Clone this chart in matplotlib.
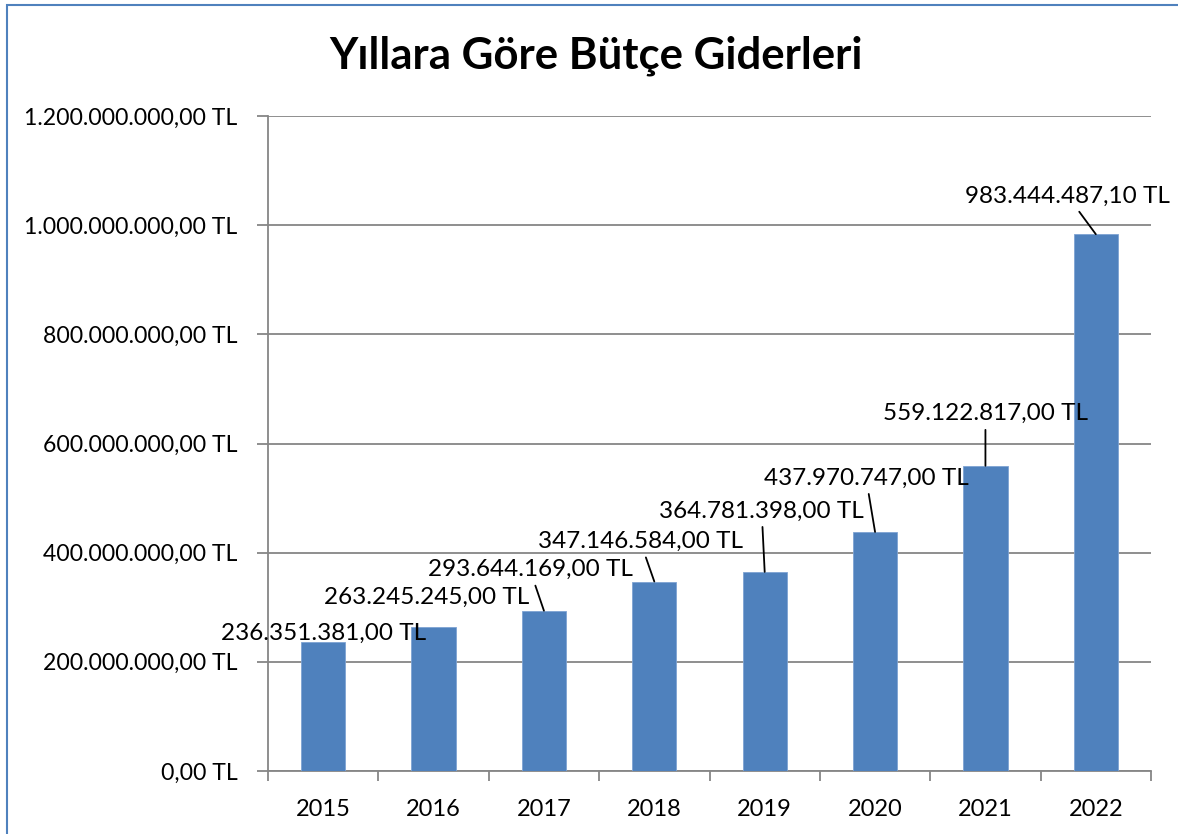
import matplotlib
matplotlib.use('Agg')
import matplotlib.pyplot as plt
from matplotlib.patches import Rectangle

plt.rcParams['font.family'] = ['Lato', 'DejaVu Sans']

years = ['2015', '2016', '2017', '2018', '2019', '2020', '2021', '2022']
giderler = [236351381.00, 263245245.00, 293644169.00, 347146584.00,
            364781398.00, 437970747.00, 559122817.00, 983444487.10]
y_ticks = [0, 200e6, 400e6, 600e6, 800e6, 1000e6, 1200e6]

# label offsets from bar top (pixels) and whether a leader line is drawn
label_offsets = [(0, 9), (-7, 30), (-14, 41), (-14, 40), (-3, 61), (-9, 54), (0, 52), (-28, 38)]
leaders = [False, False, True, True, True, True, True, True]


def tl(v):
    s = f"{v:,.2f}".replace(',', 'X').replace('.', ',').replace('X', '.')
    return s + " TL"


fig = plt.figure(figsize=(11.78, 8.34), dpi=100)
ax = fig.add_axes([268 / 1178, 1 - 771 / 834, (1151 - 268) / 1178, (771 - 116) / 834])

grey = '#868686'
x = list(range(len(years)))
ax.bar(x, giderler, width=0.4, color='#4F81BD', edgecolor='#7EA3D3', linewidth=0.6, zorder=3)

ax.set_xlim(-0.5, len(years) - 0.5)
ax.set_ylim(0, 1200e6)
ax.set_yticks(y_ticks)
ax.set_yticklabels([tl(v) for v in y_ticks])
ax.yaxis.grid(True, color=grey, linewidth=1.3, zorder=0)

ax.set_xticks([i - 0.5 for i in range(len(years) + 1)])
ax.set_xticklabels([])
ax.set_xticks(x, minor=True)
ax.set_xticklabels(years, minor=True)
ax.tick_params(axis='x', which='major', length=7, width=1.3, color=grey, direction='out')
ax.tick_params(axis='x', which='minor', length=0, pad=20, labelsize=17)
ax.tick_params(axis='y', length=8, width=1.3, color=grey, pad=14, labelsize=16.6)

for s in ['top', 'right']:
    ax.spines[s].set_visible(False)
for s in ['left', 'bottom']:
    ax.spines[s].set_color(grey)
    ax.spines[s].set_linewidth(1.3)

for i, v in enumerate(giderler):
    dx, dy = label_offsets[i]
    props = dict(arrowstyle='-', color='black', lw=1.3, shrinkA=2, shrinkB=0) if leaders[i] else None
    ax.annotate(tl(v), xy=(i, v), xytext=(dx, dy), textcoords='offset pixels',
                ha='center', va='center', fontsize=17.5, arrowprops=props, zorder=5)

fig.text(596 / 1178, 1 - 56 / 834, 'Yıllara Göre Bütçe Giderleri', ha='center', va='center',
         fontsize=31.5, fontweight='bold')

fig.patches.append(Rectangle((7 / 1178, -0.1), 1.2, 1.1 - 5 / 834, transform=fig.transFigure,
                             fill=False, edgecolor='#4F81BD', linewidth=1.5))

fig.savefig('out.png', dpi=100)
